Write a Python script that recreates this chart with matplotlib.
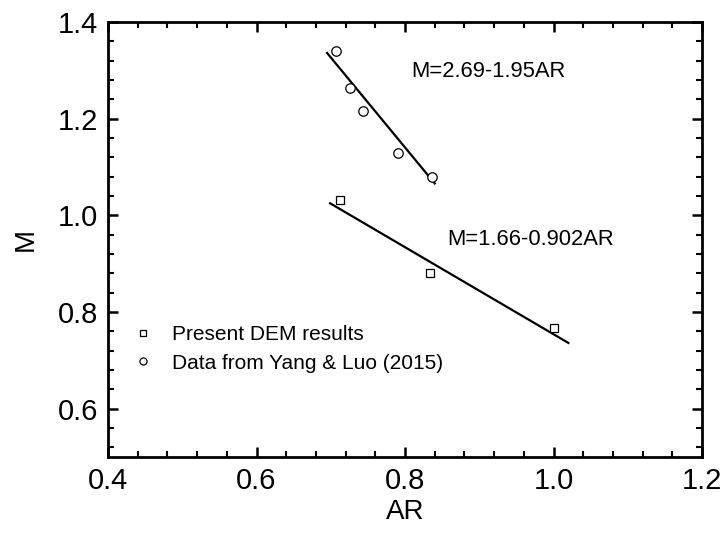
import matplotlib
matplotlib.use("Agg")
import matplotlib.pyplot as plt
from matplotlib.ticker import MultipleLocator, FormatStrFormatter

plt.rcParams['font.family'] = ['Liberation Sans', 'DejaVu Sans']

# Data
dem_ar = [0.713, 0.833, 1.000]
dem_m = [1.032, 0.880, 0.767]
yang_ar = [0.707, 0.726, 0.744, 0.790, 0.836]
yang_m = [1.341, 1.264, 1.216, 1.128, 1.080]
fit_dem_x = [0.699, 1.020]
fit_dem_y = [1.025, 0.736]
fit_yang_x = [0.695, 0.840]
fit_yang_y = [1.336, 1.066]
eq_dem = "M=1.66-0.902AR"
eq_yang = "M=2.69-1.95AR"
legend_labels = ["Present DEM results", "Data from Yang & Luo (2015)"]

fig = plt.figure(figsize=(7.27, 5.38), dpi=100)
ax = fig.add_axes([0.1486, 0.1506, 0.8170, 0.8085])

ax.plot(fit_yang_x, fit_yang_y, color='black', lw=1.6)
ax.plot(fit_dem_x, fit_dem_y, color='black', lw=1.6)
ax.plot(dem_ar, dem_m, linestyle='none', marker='s', ms=6, mfc='white', mec='black', mew=0.9,
        label=legend_labels[0])
ax.plot(yang_ar, yang_m, linestyle='none', marker='o', ms=6.8, mfc='white', mec='black', mew=0.9,
        label=legend_labels[1])

ax.text(0.809, 1.287, eq_yang, fontsize=15.8, va='baseline', ha='left')
ax.text(0.857, 0.939, eq_dem, fontsize=15.8, va='baseline', ha='left')

ax.set_xlim(0.4, 1.2)
ax.set_ylim(0.5, 1.4)
ax.xaxis.set_major_locator(MultipleLocator(0.2))
ax.xaxis.set_minor_locator(MultipleLocator(0.04))
ax.yaxis.set_major_locator(MultipleLocator(0.2))
ax.yaxis.set_minor_locator(MultipleLocator(0.04))
ax.xaxis.set_major_formatter(FormatStrFormatter('%.1f'))
ax.yaxis.set_major_formatter(FormatStrFormatter('%.1f'))

ax.tick_params(which='both', direction='in', top=True, right=True, labelsize=21)
ax.tick_params(which='major', length=7, width=1.8, pad=7)
ax.tick_params(which='minor', length=4, width=1.5)
for s in ax.spines.values():
    s.set_linewidth(2)

ax.set_xlabel('AR', fontsize=20, labelpad=3)
ax.set_ylabel('M', fontsize=20, labelpad=14)

ax.legend(loc='center left', bbox_to_anchor=(0.03, 0.248), frameon=False, fontsize=15,
          markerscale=0.75, handlelength=0.8, handletextpad=1.0, labelspacing=0.45,
          borderaxespad=0)

fig.savefig('out.png', dpi=100)
